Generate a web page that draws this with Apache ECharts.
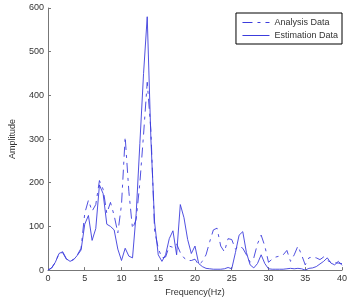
<!DOCTYPE html>
<html>
<head>
<meta charset="utf-8">
<script src="https://cdn.jsdelivr.net/npm/echarts@6.0.0/dist/echarts.min.js"></script>
<style>
  html, body { margin: 0; padding: 0; background: #fff; }
  #main { width: 350px; height: 302px; }
</style>
</head>
<body>
<div id="main"></div>
<script>
  // frequency grid (Hz)
  var freq = [0, 0.5, 1, 1.5, 2, 2.5, 3, 3.5, 4, 4.5, 5, 5.5, 6, 6.5, 7, 7.5, 8, 8.5, 9, 9.5,
              10, 10.5, 11, 11.5, 12, 12.5, 13, 13.5, 14, 14.5, 15, 15.5, 16, 16.5, 17, 17.5, 18, 18.5, 19, 19.5,
              20, 20.5, 21, 21.5, 22, 22.5, 23, 23.5, 24, 24.5, 25, 25.5, 26, 26.5, 27, 27.5, 28, 28.5, 29, 29.5,
              30, 30.5, 31, 31.5, 32, 32.5, 33, 33.5, 34, 34.5, 35, 35.5, 36, 36.5, 37, 37.5, 38, 38.5, 39, 39.5, 40];

  var analysisData = [0, 5, 18, 38, 40, 25, 20, 25, 35, 50,
                      130, 160, 135, 150, 205, 185, 130, 155, 125, 85,
                      150, 305, 180, 95, 116, 200, 310, 430, 320, 90,
                      50, 28, 30, 55, 52, 60, 40, 28, 22, 22,
                      25, 12, 20, 35, 65, 92, 96, 55, 42, 72,
                      70, 48, 55, 50, 35, 18, 28, 60, 80, 55,
                      18, 25, 30, 32, 35, 45, 20, 35, 55, 35,
                      12, 28, 30, 28, 24, 30, 22, 18, 17, 16, 15];

  var estimationData = [0, 5, 18, 38, 42, 26, 20, 24, 34, 46,
                        105, 125, 68, 95, 195, 175, 105, 100, 92, 48,
                        22, 50, 32, 28, 130, 290, 450, 580, 300, 110,
                        35, 20, 35, 72, 90, 35, 150, 120, 70, 38,
                        55, 15, 8, 4, 3, 2, 2, 2, 3, 6,
                        3, 40, 80, 88, 40, 12, 5, 15, 35, 15,
                        3, 2, 2, 2, 2, 3, 4, 3, 4, 3,
                        0, 4, 5, 8, 14, 20, 28, 16, 12, 20, 11];

  function pairs(xs, ys) {
    return xs.map(function (x, i) { return [x, ys[i]]; });
  }

  var chart = echarts.init(document.getElementById('main'));

  var axisGray = '#777';
  var lineBlue = '#3c3cdc';
  var labelStyle = { color: '#333', fontSize: 9, fontFamily: 'Liberation Sans, Arial, sans-serif' };

  var option = {
    animation: false,
    backgroundColor: '#fff',
    grid: { left: 45, right: 6, top: 8, bottom: 31 },
    legend: {
      orient: 'vertical',
      right: 8,
      top: 13,
      padding: [5, 4, 4, 6],
      itemWidth: 27,
      itemHeight: 10,
      itemGap: 4,
      borderColor: '#000',
      borderWidth: 1,
      itemStyle: { opacity: 0 },
      lineStyle: { width: 1, color: lineBlue },
      textStyle: labelStyle,
      data: ['Analysis Data', 'Estimation Data']
    },
    xAxis: {
      type: 'value',
      min: 0,
      max: 40,
      interval: 5,
      name: 'Frequency(Hz)',
      nameLocation: 'middle',
      nameGap: 17,
      nameTextStyle: labelStyle,
      axisLine: { show: true, lineStyle: { color: axisGray, width: 1 } },
      axisTick: { show: true, inside: true, length: 3, lineStyle: { color: axisGray } },
      axisLabel: Object.assign({ margin: 4 }, labelStyle),
      splitLine: { show: false }
    },
    yAxis: {
      type: 'value',
      min: 0,
      max: 600,
      interval: 100,
      name: 'Amplitude',
      nameLocation: 'middle',
      nameGap: 31,
      nameTextStyle: labelStyle,
      axisLine: { show: true, lineStyle: { color: axisGray, width: 1 } },
      axisTick: { show: true, inside: true, length: 3, lineStyle: { color: axisGray } },
      axisLabel: Object.assign({ margin: 4 }, labelStyle),
      splitLine: { show: false }
    },
    series: [
      {
        name: 'Analysis Data',
        type: 'line',
        showSymbol: false,
        symbol: 'none',
        data: pairs(freq, analysisData),
        lineStyle: { color: lineBlue, width: 0.9, type: [10, 5, 3, 5] },
        itemStyle: { color: lineBlue }
      },
      {
        name: 'Estimation Data',
        type: 'line',
        showSymbol: false,
        symbol: 'none',
        data: pairs(freq, estimationData),
        lineStyle: { color: lineBlue, width: 0.9 },
        itemStyle: { color: lineBlue }
      }
    ]
  };

  chart.setOption(option);
</script>
</body>
</html>
